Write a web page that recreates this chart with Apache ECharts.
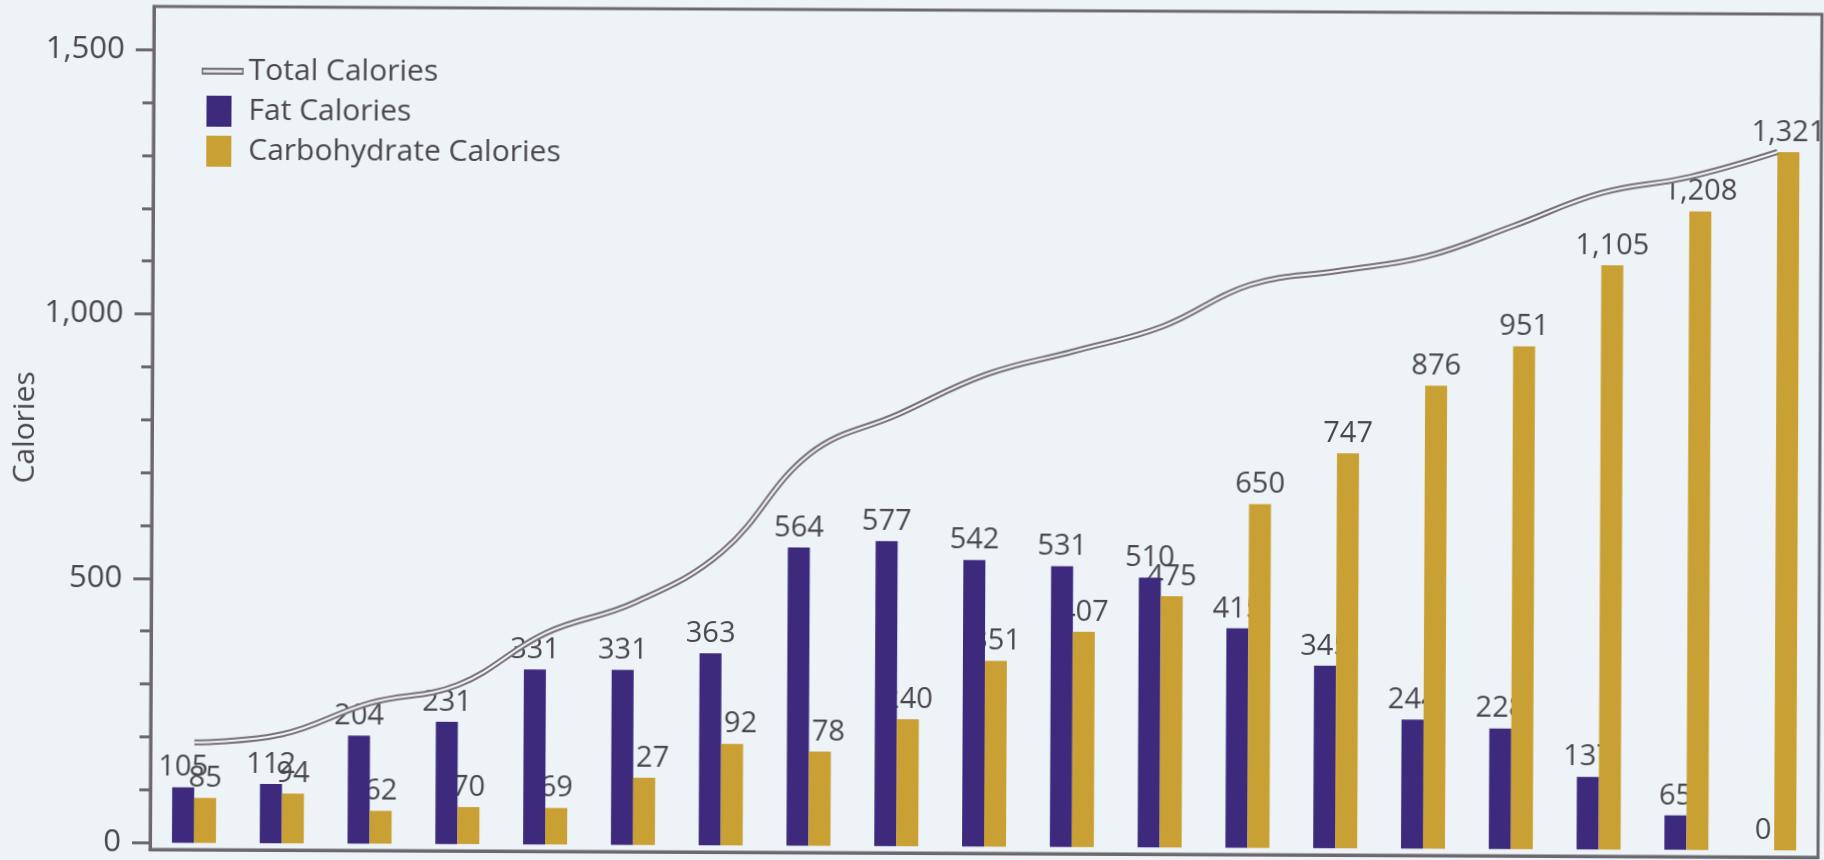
<!DOCTYPE html>
<html>
<head>
<meta charset="utf-8">
<script src="https://cdn.jsdelivr.net/npm/echarts@6/dist/echarts.min.js"></script>
<style>
  html, body { margin: 0; padding: 0; background: #edf3f7; overflow: hidden; }
  #chart { width: 1824px; height: 860px; transform: rotate(0.27deg); transform-origin: 50% 50%; }
</style>
</head>
<body>
<div id="chart"></div>
<script>
// ---- data ----
const categories = ['1','2','3','4','5','6','7','8','9','10','11','12','13','14','15','16','17','18','19'];
const fatCalories = [105, 112, 204, 231, 331, 331, 363, 564, 577, 542, 531, 510, 415, 345, 244, 228, 137, 65, 0];
const carbCalories = [85, 94, 62, 70, 69, 127, 192, 178, 240, 351, 407, 475, 650, 747, 876, 951, 1105, 1208, 1321];
const totalCalories = [190, 206, 266, 301, 400, 458, 555, 742, 817, 893, 938, 985, 1065, 1092, 1120, 1179, 1242, 1273, 1321];
const yLabelValues = [0, 500, 1000, 1500];
const yMinorTickValues = [100, 200, 300, 400, 600, 700, 800, 900, 1100, 1200, 1300, 1400];

const FONT = 'Open Sans';
const TEXT = '#4a474d';
const AXIS = '#6d686e';
const FAT = '#3d2a7c';
const CARB = '#c9a033';
const LINE = '#77727b';

const fmt = v => Number(v).toLocaleString('en-US');
const labelCfg = { show: true, position: 'top', distance: 5, color: TEXT, fontFamily: FONT, fontSize: 29, formatter: p => fmt(p.value) };

const chart = echarts.init(document.getElementById('chart'), null, { renderer: 'canvas' });
chart.setOption({
  backgroundColor: '#edf3f7',
  animation: false,
  textStyle: { fontFamily: FONT },
  legend: {
    orient: 'vertical', left: 195, top: 54,
    itemWidth: 42, itemHeight: 31, itemGap: 9,
    textStyle: { fontFamily: FONT, fontSize: 30, color: TEXT },
    data: [
      { name: 'Total Calories', icon: 'path://M0,0 M0,12 H42 V19 H0 Z M1.5,14.3 V16.7 H40.5 V14.3 Z M42,31', itemStyle: { borderWidth: 0, color: LINE } },
      { name: 'Fat Calories', icon: 'path://M0,0 M5,0 H30 V31 H5 Z M42,31', itemStyle: { borderWidth: 0 } },
      { name: 'Carbohydrate Calories', icon: 'path://M0,0 M5,0 H30 V31 H5 Z M42,31', itemStyle: { borderWidth: 0 } }
    ]
  },
  grid: { left: 152, right: 4, top: 10, bottom: 7, outerBoundsMode: 'none', containLabel: false, show: true, borderColor: AXIS, borderWidth: 3, backgroundColor: 'transparent' },
  xAxis: [
    { type: 'category', data: categories, axisLine: { show: true, onZero: false, lineStyle: { color: AXIS, width: 3 } }, axisTick: { show: false }, axisLabel: { show: false }, splitLine: { show: false } },
    { type: 'category', data: categories, show: false }
  ],
  yAxis: [
    {
      type: 'value', min: -13, max: 1582,
      name: 'Calories', nameLocation: 'middle', nameGap: 112, nameMoveOverlap: false,
      nameTextStyle: { fontFamily: FONT, fontSize: 30, color: TEXT },
      axisLine: { show: true, lineStyle: { color: AXIS, width: 3 } },
      axisTick: { show: true, customValues: yLabelValues, length: 18, lineStyle: { color: AXIS, width: 3 } },
      axisLabel: { show: true, customValues: yLabelValues, margin: 29, fontFamily: FONT, fontSize: 31, color: TEXT, formatter: v => fmt(v) },
      splitLine: { show: false }
    },
    {
      type: 'value', min: -13, max: 1582, position: 'left',
      axisLine: { show: false },
      axisTick: { show: true, customValues: yMinorTickValues, length: 11, lineStyle: { color: AXIS, width: 3 } },
      axisLabel: { show: false },
      splitLine: { show: false }
    }
  ],
  series: [
    { name: '_fatLabels', type: 'bar', xAxisIndex: 1, yAxisIndex: 0, data: fatCalories, barWidth: 22, barGap: '0%', z: 1, silent: true, legendHoverLink: false, itemStyle: { color: 'rgba(0,0,0,0)' }, label: labelCfg },
    { name: '_carbLabels', type: 'bar', xAxisIndex: 1, yAxisIndex: 0, data: carbCalories, barWidth: 22, barGap: '0%', z: 1, silent: true, legendHoverLink: false, itemStyle: { color: 'rgba(0,0,0,0)' }, label: labelCfg },
    { name: 'Fat Calories', type: 'bar', xAxisIndex: 0, yAxisIndex: 0, data: fatCalories, barWidth: 22, barGap: '0%', z: 2, itemStyle: { color: FAT } },
    { name: 'Carbohydrate Calories', type: 'bar', xAxisIndex: 0, yAxisIndex: 0, data: carbCalories, barWidth: 22, barGap: '0%', z: 2, itemStyle: { color: CARB } },
    { name: 'Total Calories', type: 'line', xAxisIndex: 0, yAxisIndex: 0, data: totalCalories, smooth: 0.4, symbol: 'none', z: 3, itemStyle: { color: LINE }, lineStyle: { color: LINE, width: 6 } },
    { name: '_totalInner', type: 'line', xAxisIndex: 0, yAxisIndex: 0, data: totalCalories, smooth: 0.4, symbol: 'none', z: 4, silent: true, itemStyle: { color: '#f2f0f4' }, lineStyle: { color: '#f2f0f4', width: 2 } }
  ]
});
</script>
</body>
</html>
